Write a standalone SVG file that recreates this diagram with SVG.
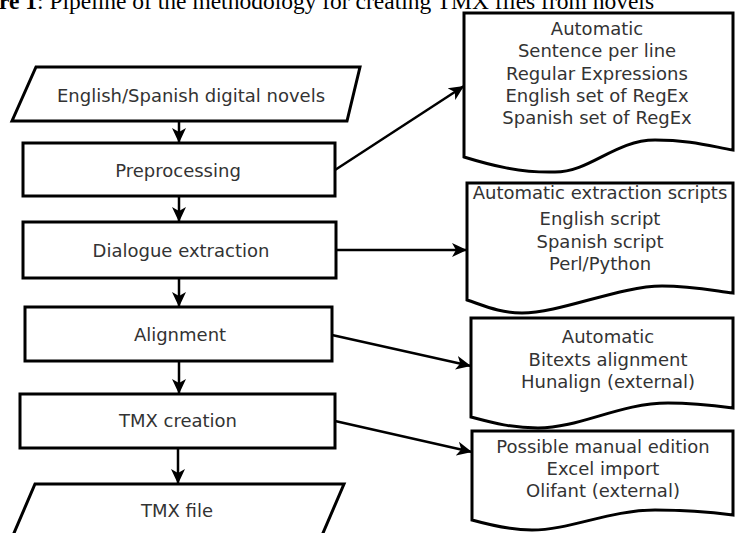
<svg xmlns="http://www.w3.org/2000/svg" width="735" height="533" viewBox="0 0 735 533">
<defs>
<marker id="ah" markerUnits="userSpaceOnUse" markerWidth="16" markerHeight="16" refX="15" refY="8" orient="auto">
<path d="M0,1 L15,8 L0,15 L4,8 z" fill="#000"/>
</marker>
<style>
.box{fill:#fff;stroke:#000;stroke-width:3}
.t{font-family:"DejaVu Sans",Verdana,sans-serif;font-size:18px;fill:#333;text-anchor:middle}
.c{fill:none;stroke:#000;stroke-width:2.5;marker-end:url(#ah)}
.cap{font-family:"Liberation Serif","Times New Roman",serif;font-size:23.5px;fill:#000}
</style>
</defs>
<rect width="735" height="533" fill="#fff"/>
<text class="cap" x="-1" y="9"><tspan font-weight="bold">re 1</tspan>: Pipeline of the methodology for creating TMX files from novels</text>

<g id="n1"><polygon class="box" points="36,67 360,67 347,121 12,121"/><text class="t" x="191" y="102">English/Spanish digital novels</text></g>
<g id="n2"><rect class="box" x="23" y="143" width="312" height="53"/><text class="t" x="178" y="177">Preprocessing</text></g>
<g id="n3"><rect class="box" x="23" y="222" width="313" height="56"/><text class="t" x="181" y="257">Dialogue extraction</text></g>
<g id="n4"><rect class="box" x="25" y="307" width="307" height="54"/><text class="t" x="180" y="341">Alignment</text></g>
<g id="n5"><rect class="box" x="20" y="394" width="315" height="54"/><text class="t" x="178" y="427">TMX creation</text></g>
<g id="n6"><polygon class="box" points="35,484 344,484 320,540 11,540"/><text class="t" x="177" y="517">TMX file</text></g>

<g id="d1"><path class="box" d="M464,157 L464,13 L733,13 L733,150 C710,146 690,140 655,140 C615,140 590,172 555,172 C520,173 490,165 464,157 Z"/>
<text class="t" x="597" y="35">Automatic</text><text class="t" x="597" y="57">Sentence per line</text><text class="t" x="597" y="80">Regular Expressions</text><text class="t" x="597" y="102">English set of RegEx</text><text class="t" x="597" y="124">Spanish set of RegEx</text></g>
<g id="d2"><path class="box" d="M467,300 L467,183 L733,183 L733,293 C710,290 690,286 662,286 C620,286 560,313 522,313 C500,313 485,306 467,300 Z"/>
<text class="t" x="600" y="199">Automatic extraction scripts</text><text class="t" x="600" y="225">English script</text><text class="t" x="600" y="248">Spanish script</text><text class="t" x="600" y="270">Perl/Python</text></g>
<g id="d3"><path class="box" d="M471,417 L471,318 L733,318 L733,408 C710,405 690,403 668,403 C620,403 580,428 538,428 C510,428 490,422 471,417 Z"/>
<text class="t" x="608" y="343">Automatic</text><text class="t" x="608" y="366">Bitexts alignment</text><text class="t" x="608" y="388">Hunalign (external)</text></g>
<g id="d4"><path class="box" d="M472,520 L472,431 L733,431 L733,515 C710,512 690,510 655,510 C610,510 570,530 532,530 C510,530 490,525 472,520 Z"/>
<text class="t" x="603" y="453">Possible manual edition</text><text class="t" x="603" y="475">Excel import</text><text class="t" x="603" y="497">Olifant (external)</text></g>

<g id="connectors">
<line class="c" x1="179" y1="121" x2="179" y2="143"/>
<line class="c" x1="179" y1="196" x2="179" y2="222"/>
<line class="c" x1="179" y1="278" x2="179" y2="307"/>
<line class="c" x1="179" y1="361" x2="179" y2="394"/>
<line class="c" x1="178" y1="448" x2="178" y2="484"/>
<line class="c" x1="335" y1="170" x2="464" y2="86"/>
<line class="c" x1="336" y1="250" x2="467" y2="250"/>
<line class="c" x1="332" y1="335" x2="471" y2="366"/>
<line class="c" x1="335" y1="421" x2="472" y2="452"/>
</g>
</svg>
